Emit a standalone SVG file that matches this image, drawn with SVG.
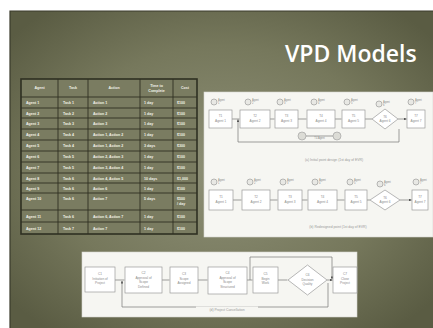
<svg xmlns="http://www.w3.org/2000/svg" width="433" height="328" viewBox="0 0 433 328">
<defs>
<radialGradient id="bg" cx="50%" cy="50%" r="65%">
<stop offset="0" stop-color="#8e9077"/>
<stop offset="0.6" stop-color="#76785c"/>
<stop offset="1" stop-color="#5a5c43"/>
</radialGradient>
<marker id="ah" viewBox="0 0 6 6" refX="5.5" refY="3" markerWidth="4" markerHeight="4" orient="auto">
<path d="M0,0 L6,3 L0,6 Z" fill="#555"/>
</marker>
</defs>
<style>
.tt{font-family:"Open Sans","Liberation Sans",sans-serif;fill:#ffffff;font-weight:600}
.th{font-family:"Liberation Sans",sans-serif;font-size:3.6px;fill:#f2f2e8;font-weight:bold}
.td{font-family:"Liberation Sans",sans-serif;font-size:3.6px;fill:#f2f2e8;font-weight:bold}
.grid{stroke:#2f3022;stroke-width:0.9;fill:none}
.panel{fill:#f6f6f2;stroke:#d8d8d0;stroke-width:0.6}
.box{fill:#ffffff;stroke:#9a9a9a;stroke-width:0.7}
.nt{font-family:"Liberation Sans",sans-serif;font-size:3.2px;fill:#8a8a8a;text-anchor:middle}
.ic{fill:#e8e8e4;stroke:#8e8e8e;stroke-width:0.6}
.it{font-family:"Liberation Sans",sans-serif;font-size:2.6px;fill:#888}
.ln{stroke:#777;stroke-width:0.7;fill:none}
.cap{font-family:"Liberation Sans",sans-serif;font-size:3.4px;fill:#999;text-anchor:middle}
</style>
<rect x="0" y="0" width="433" height="328" fill="#ffffff"/>
<rect x="10" y="11" width="423" height="317" fill="url(#bg)"/>
<path d="M10,328 L10,11 L433,11" stroke="#3a3b2c" stroke-width="1.2" fill="none"/>
<text class="tt" x="285" y="62" font-size="23">VPD Models</text>

<g id="table">
<rect x="21" y="79" width="176" height="155" fill="#7a7c61"/>
<g class="grid">
<rect x="21" y="79" width="176" height="155" stroke-width="1.6"/>
<path d="M58,79V234M88,79V234M140,79V234M173,79V234"/>
<path d="M21,97H197M21,108H197M21,118H197M21,129H197M21,140H197M21,151H197M21,162H197M21,173H197M21,183H197M21,193H197M21,210H197M21,222H197"/>
</g>
<g class="th" text-anchor="middle">
<text x="39.5" y="89">Agent</text>
<text x="73" y="89">Task</text>
<text x="114" y="89">Action</text>
<text x="156.5" y="87">Time to</text>
<text x="156.5" y="92">Complete</text>
<text x="185" y="89">Cost</text>
</g>
<g class="td">
<text x="26" y="104">Agent 1</text><text x="63" y="104">Task 1</text><text x="93" y="104">Action 1</text><text x="144" y="104">1 day</text><text x="177" y="104">$100</text>
<text x="26" y="114.5">Agent 2</text><text x="63" y="114.5">Task 2</text><text x="93" y="114.5">Action 2</text><text x="144" y="114.5">1 day</text><text x="177" y="114.5">$100</text>
<text x="26" y="125">Agent 3</text><text x="63" y="125">Task 3</text><text x="93" y="125">Action 3</text><text x="144" y="125">1 day</text><text x="177" y="125">$100</text>
<text x="26" y="136">Agent 4</text><text x="63" y="136">Task 4</text><text x="93" y="136">Action 1, Action 2</text><text x="144" y="136">1 day</text><text x="177" y="136">$100</text>
<text x="26" y="147">Agent 5</text><text x="63" y="147">Task 4</text><text x="93" y="147">Action 1, Action 2</text><text x="144" y="147">3 days</text><text x="177" y="147">$300</text>
<text x="26" y="158">Agent 6</text><text x="63" y="158">Task 5</text><text x="93" y="158">Action 2, Action 3</text><text x="144" y="158">1 day</text><text x="177" y="158">$100</text>
<text x="26" y="169">Agent 7</text><text x="63" y="169">Task 5</text><text x="93" y="169">Action 3, Action 4</text><text x="144" y="169">1 day</text><text x="177" y="169">$100</text>
<text x="26" y="179.5">Agent 8</text><text x="63" y="179.5">Task 6</text><text x="93" y="179.5">Action 4, Action 5</text><text x="144" y="179.5">10 days</text><text x="177" y="179.5">$1,000</text>
<text x="26" y="189.5">Agent 9</text><text x="63" y="189.5">Task 6</text><text x="93" y="189.5">Action 6</text><text x="144" y="189.5">1 day</text><text x="177" y="189.5">$100</text>
<text x="26" y="200">Agent 10</text><text x="63" y="200">Task 6</text><text x="93" y="200">Action 7</text><text x="144" y="200">5 days</text><text x="177" y="200">$500</text><text x="177" y="205">/ day</text>
<text x="26" y="218">Agent 11</text><text x="63" y="218">Task 6</text><text x="93" y="218">Action 6, Action 7</text><text x="144" y="218">1 day</text><text x="177" y="218">$100</text>
<text x="26" y="230">Agent 12</text><text x="63" y="230">Task 7</text><text x="93" y="230">Action 7</text><text x="144" y="230">1 day</text><text x="177" y="230">$100</text>
</g>
</g>

<rect class="panel" x="204" y="92" width="229" height="145"/>
<rect class="panel" x="82" y="252" width="275" height="65"/>

<g id="connectors">
<path class="ln" marker-end="url(#ah)" d="M232,119H239.5M270,119H274.5M298,119H306.5M335,119H341.5M365,119H372M398,119H406.5"/>
<path class="ln" marker-end="url(#ah)" d="M399,129V142H238V119.5"/>
<path class="ln" d="M306,136H333"/>
<circle cx="302" cy="136" r="4" fill="#dcdcd6" stroke="#999" stroke-width="0.6"/>
<circle cx="337" cy="136" r="4" fill="#dcdcd6" stroke="#999" stroke-width="0.6"/>
<text class="it" x="319.5" y="139" text-anchor="middle">T4 Agent</text>
<path class="ln" marker-end="url(#ah)" d="M233,200H241.5M270,200H277.5M302,200H307.5M337,200H344.5M367,200H370M400,200H411.5"/>
<path class="ln" marker-end="url(#ah)" d="M115,280H124.5M162,280H169.5M198,280H207.5M247,280H252.5M278,280H287.5M327,280H332.5"/>
<path class="ln" marker-end="url(#ah)" d="M250,280V257H332V279"/>
<path class="ln" marker-end="url(#ah)" d="M328,283V307H122V281"/>
<rect x="196" y="306.5" width="62" height="5" fill="#f6f6f2"/>
<text class="cap" x="227" y="310.5">(d) Project Cancellation</text>
</g>

<g id="row1">
<g id="a1"><circle class="ic" cx="214" cy="102" r="3"/><text class="it" x="218" y="101">Agent</text><text class="it" x="218" y="104">1</text><rect class="box" x="209" y="110" width="23" height="18"/><text class="nt" x="220.5" y="117">T1</text><text class="nt" x="220.5" y="122">Agent 1</text></g>
<g id="a2"><circle class="ic" cx="248" cy="102" r="3"/><text class="it" x="252" y="101">Agent</text><text class="it" x="252" y="104">2</text><rect class="box" x="240" y="110" width="30" height="18"/><text class="nt" x="255" y="117">T2</text><text class="nt" x="255" y="122">Agent 2</text></g>
<g id="a3"><circle class="ic" cx="280" cy="102" r="3"/><text class="it" x="284" y="101">Agent</text><text class="it" x="284" y="104">3</text><rect class="box" x="275" y="110" width="23" height="18"/><text class="nt" x="286.5" y="117">T3</text><text class="nt" x="286.5" y="122">Agent 3</text></g>
<g id="a4"><circle class="ic" cx="314" cy="102" r="3"/><text class="it" x="318" y="101">Agent</text><text class="it" x="318" y="104">4</text><rect class="box" x="307" y="110" width="28" height="18"/><text class="nt" x="321" y="117">T4</text><text class="nt" x="321" y="122">Agent 4</text></g>
<g id="a5"><circle class="ic" cx="347" cy="102" r="3"/><text class="it" x="351" y="101">Agent</text><text class="it" x="351" y="104">5</text><rect class="box" x="342" y="110" width="23" height="18"/><text class="nt" x="353.5" y="117">T5</text><text class="nt" x="353.5" y="122">Agent 5</text></g>
<g id="a6"><circle class="ic" cx="379" cy="104" r="3"/><text class="it" x="383" y="103">Agent</text><text class="it" x="383" y="106">6</text><path class="box" d="M372,119L385,109L398,119L385,129Z"/><text class="nt" x="385" y="118">T6</text><text class="nt" x="385" y="122">Agent 6</text></g>
<g id="a7"><circle class="ic" cx="411" cy="102" r="3"/><text class="it" x="415" y="101">Agent</text><text class="it" x="415" y="104">7</text><rect class="box" x="407" y="110" width="18" height="18"/><text class="nt" x="416" y="117">T7</text><text class="nt" x="416" y="122">Agent 7</text></g>
<text class="cap" x="334" y="161">(a) Initial point design (1st day of EVR)</text>
</g>

<g id="row2">
<g id="b1"><circle class="ic" cx="214" cy="182" r="3"/><text class="it" x="218" y="181">Agent</text><text class="it" x="218" y="184">1</text><rect class="box" x="209" y="190" width="24" height="20"/><text class="nt" x="221" y="198">T1</text><text class="nt" x="221" y="203">Agent 1</text></g>
<g id="b2"><circle class="ic" cx="250" cy="182" r="3"/><text class="it" x="254" y="181">Agent</text><text class="it" x="254" y="184">2</text><rect class="box" x="242" y="190" width="28" height="20"/><text class="nt" x="256" y="198">T2</text><text class="nt" x="256" y="203">Agent 2</text></g>
<g id="b3"><circle class="ic" cx="283" cy="182" r="3"/><text class="it" x="287" y="181">Agent</text><text class="it" x="287" y="184">3</text><rect class="box" x="278" y="190" width="24" height="20"/><text class="nt" x="290" y="198">T3</text><text class="nt" x="290" y="203">Agent 3</text></g>
<g id="b4"><circle class="ic" cx="315" cy="182" r="3"/><text class="it" x="319" y="181">Agent</text><text class="it" x="319" y="184">4</text><rect class="box" x="308" y="190" width="29" height="20"/><text class="nt" x="322.5" y="198">T4</text><text class="nt" x="322.5" y="203">Agent 4</text></g>
<g id="b5"><circle class="ic" cx="350" cy="182" r="3"/><text class="it" x="354" y="181">Agent</text><text class="it" x="354" y="184">5</text><rect class="box" x="345" y="190" width="22" height="20"/><text class="nt" x="356" y="198">T5</text><text class="nt" x="356" y="203">Agent 5</text></g>
<g id="b6"><circle class="ic" cx="380" cy="184" r="3"/><text class="it" x="384" y="183">Agent</text><text class="it" x="384" y="186">6</text><path class="box" d="M370,200L385,190L400,200L385,210Z"/><text class="nt" x="385" y="199">T6</text><text class="nt" x="385" y="203">Agent 6</text></g>
<g id="b7"><circle class="ic" cx="416" cy="182" r="3"/><text class="it" x="420" y="181">Agent</text><text class="it" x="420" y="184">7</text><rect class="box" x="412" y="190" width="16" height="20"/><text class="nt" x="420" y="198">T7</text><text class="nt" x="420" y="203">Agent 7</text></g>
<text class="cap" x="338" y="228">(b) Redesigned point (1st day of EVR)</text>
</g>

<g id="c1"><rect class="box" x="85" y="267" width="30" height="25"/><text class="nt" x="100" y="275">C1</text><text class="nt" x="100" y="279.5">Initiation of</text><text class="nt" x="100" y="284">Project</text></g>
<g id="c2"><rect class="box" x="125" y="267" width="37" height="26"/><text class="nt" x="143.5" y="274">C2</text><text class="nt" x="143.5" y="278.5">Approval of</text><text class="nt" x="143.5" y="283">Scope</text><text class="nt" x="143.5" y="287.5">Defined</text></g>
<g id="c3"><rect class="box" x="170" y="267" width="28" height="26"/><text class="nt" x="184" y="275">C3</text><text class="nt" x="184" y="279.5">Scope</text><text class="nt" x="184" y="284">Assigned</text></g>
<g id="c4"><rect class="box" x="208" y="267" width="39" height="27"/><text class="nt" x="227.5" y="274">C4</text><text class="nt" x="227.5" y="278.5">Approval of</text><text class="nt" x="227.5" y="283">Scope</text><text class="nt" x="227.5" y="287.5">Structured</text></g>
<g id="c5"><rect class="box" x="253" y="267" width="25" height="26"/><text class="nt" x="265.5" y="275">C5</text><text class="nt" x="265.5" y="279.5">Begin</text><text class="nt" x="265.5" y="284">Work</text></g>
<g id="c6"><path class="box" d="M288,280L307.5,265L327,280L307.5,295Z"/><text class="nt" x="307.5" y="276">C6</text><text class="nt" x="307.5" y="280.5">Decision</text><text class="nt" x="307.5" y="285">Quality</text></g>
<g id="c7"><rect class="box" x="333" y="267" width="24" height="26"/><text class="nt" x="345" y="275">C7</text><text class="nt" x="345" y="279.5">Close</text><text class="nt" x="345" y="284">Project</text></g>
</svg>
